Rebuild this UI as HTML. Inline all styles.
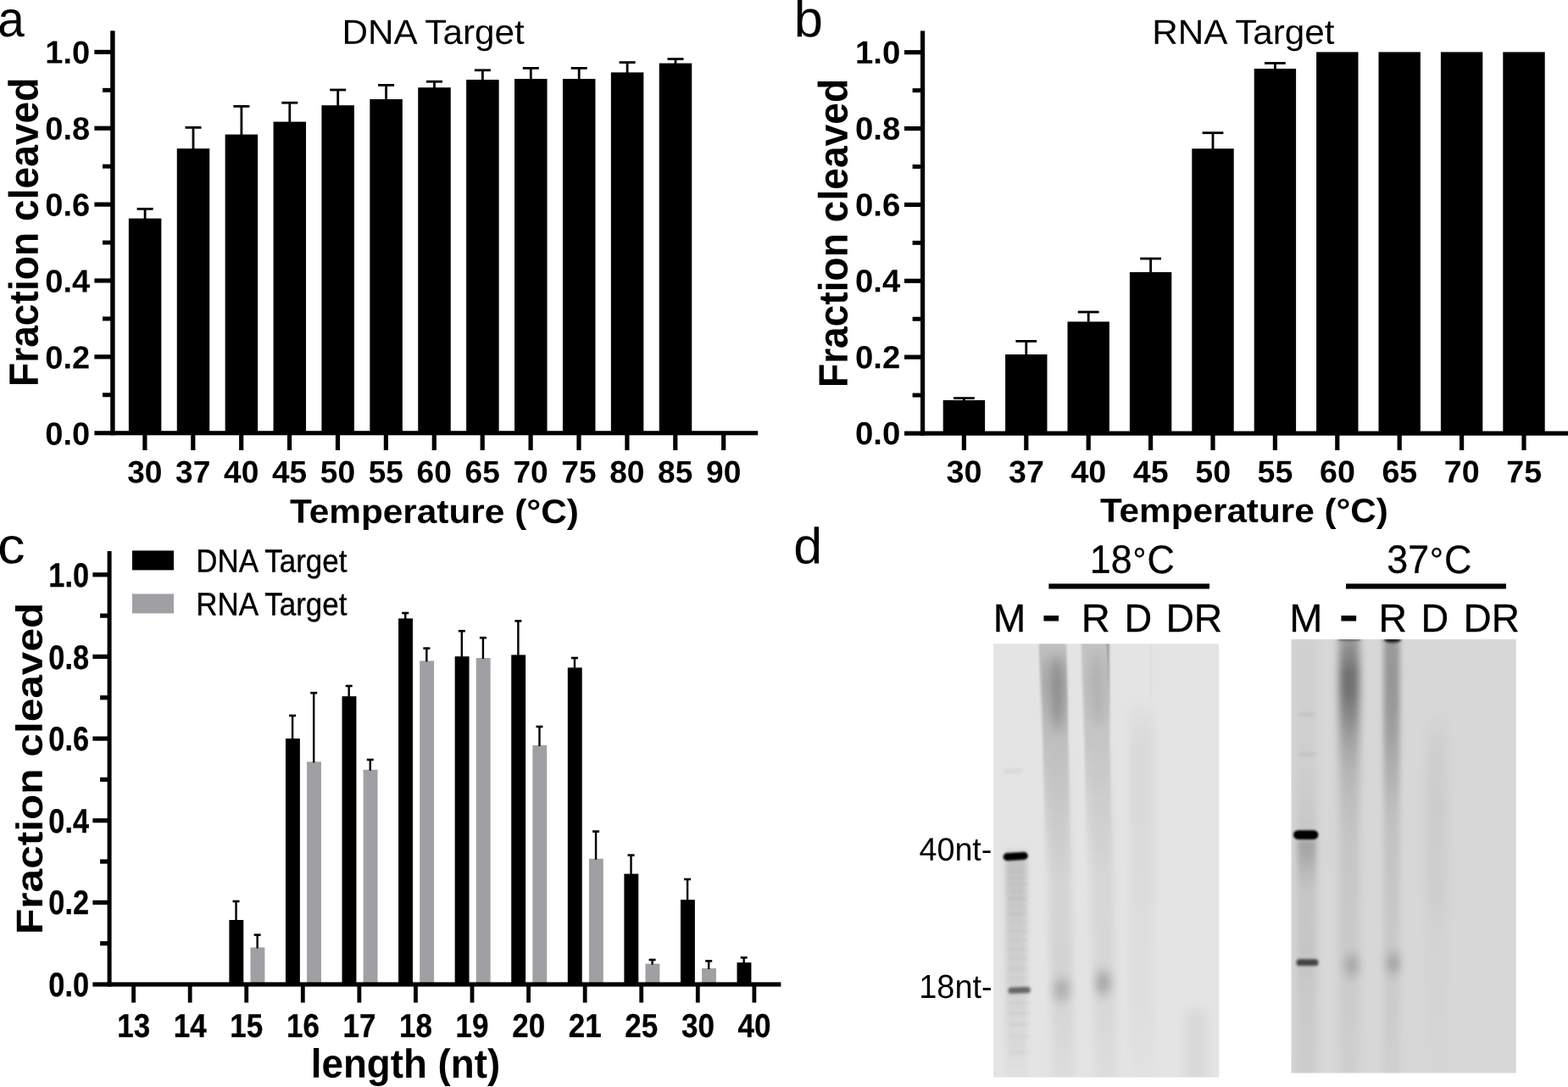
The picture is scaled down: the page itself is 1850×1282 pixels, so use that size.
<!DOCTYPE html>
<html lang="en"><head><meta charset="utf-8"><title>Figure</title>
<style>
html,body{margin:0;padding:0;background:#fff;}
body{width:1850px;height:1282px;overflow:hidden;}
svg{display:block;}
svg text{font-family:"Liberation Sans", sans-serif;fill:#000;white-space:pre;}
</style></head>
<body>
<svg width="1850" height="1282" viewBox="0 0 1850 1282" role="img" aria-label="Figure: fraction cleaved versus temperature and guide length, with gel images">
<rect width="1850" height="1282" fill="#fff"/>
<rect x="121.00" y="463.27" width="10.20" height="5.00" fill="#000"/>
<rect x="111.40" y="418.24" width="19.80" height="5.20" fill="#000"/>
<rect x="121.00" y="373.41" width="10.20" height="5.00" fill="#000"/>
<rect x="111.40" y="328.38" width="19.80" height="5.20" fill="#000"/>
<rect x="121.00" y="283.55" width="10.20" height="5.00" fill="#000"/>
<rect x="111.40" y="238.52" width="19.80" height="5.20" fill="#000"/>
<rect x="121.00" y="193.69" width="10.20" height="5.00" fill="#000"/>
<rect x="111.40" y="148.66" width="19.80" height="5.20" fill="#000"/>
<rect x="121.00" y="103.83" width="10.20" height="5.00" fill="#000"/>
<rect x="111.40" y="58.80" width="19.80" height="5.20" fill="#000"/>
<rect x="168.30" y="512.30" width="5.20" height="18.70" fill="#000"/>
<rect x="225.20" y="512.30" width="5.20" height="18.70" fill="#000"/>
<rect x="282.10" y="512.30" width="5.20" height="18.70" fill="#000"/>
<rect x="339.00" y="512.30" width="5.20" height="18.70" fill="#000"/>
<rect x="395.90" y="512.30" width="5.20" height="18.70" fill="#000"/>
<rect x="452.80" y="512.30" width="5.20" height="18.70" fill="#000"/>
<rect x="509.70" y="512.30" width="5.20" height="18.70" fill="#000"/>
<rect x="566.60" y="512.30" width="5.20" height="18.70" fill="#000"/>
<rect x="623.50" y="512.30" width="5.20" height="18.70" fill="#000"/>
<rect x="680.40" y="512.30" width="5.20" height="18.70" fill="#000"/>
<rect x="737.30" y="512.30" width="5.20" height="18.70" fill="#000"/>
<rect x="794.20" y="512.30" width="5.20" height="18.70" fill="#000"/>
<rect x="851.10" y="512.30" width="5.20" height="18.70" fill="#000"/>
<rect x="151.85" y="257.60" width="38.50" height="251.60" fill="#000"/>
<rect x="169.70" y="246.40" width="2.80" height="12.20" fill="#000"/>
<rect x="161.60" y="245.00" width="19.00" height="2.80" fill="#000"/>
<rect x="208.75" y="175.20" width="38.50" height="334.00" fill="#000"/>
<rect x="226.60" y="150.40" width="2.80" height="25.80" fill="#000"/>
<rect x="218.50" y="149.00" width="19.00" height="2.80" fill="#000"/>
<rect x="265.65" y="158.60" width="38.50" height="350.60" fill="#000"/>
<rect x="283.50" y="125.40" width="2.80" height="34.20" fill="#000"/>
<rect x="275.40" y="124.00" width="19.00" height="2.80" fill="#000"/>
<rect x="322.55" y="143.60" width="38.50" height="365.60" fill="#000"/>
<rect x="340.40" y="121.20" width="2.80" height="23.40" fill="#000"/>
<rect x="332.30" y="119.80" width="19.00" height="2.80" fill="#000"/>
<rect x="379.45" y="124.20" width="38.50" height="385.00" fill="#000"/>
<rect x="397.30" y="106.00" width="2.80" height="19.20" fill="#000"/>
<rect x="389.20" y="104.60" width="19.00" height="2.80" fill="#000"/>
<rect x="436.35" y="117.00" width="38.50" height="392.20" fill="#000"/>
<rect x="454.20" y="100.40" width="2.80" height="17.60" fill="#000"/>
<rect x="446.10" y="99.00" width="19.00" height="2.80" fill="#000"/>
<rect x="493.25" y="103.20" width="38.50" height="406.00" fill="#000"/>
<rect x="511.10" y="96.20" width="2.80" height="8.00" fill="#000"/>
<rect x="503.00" y="94.80" width="19.00" height="2.80" fill="#000"/>
<rect x="550.15" y="94.00" width="38.50" height="415.20" fill="#000"/>
<rect x="568.00" y="82.80" width="2.80" height="12.20" fill="#000"/>
<rect x="559.90" y="81.40" width="19.00" height="2.80" fill="#000"/>
<rect x="607.05" y="93.00" width="38.50" height="416.20" fill="#000"/>
<rect x="624.90" y="80.40" width="2.80" height="13.60" fill="#000"/>
<rect x="616.80" y="79.00" width="19.00" height="2.80" fill="#000"/>
<rect x="663.95" y="93.00" width="38.50" height="416.20" fill="#000"/>
<rect x="681.80" y="80.40" width="2.80" height="13.60" fill="#000"/>
<rect x="673.70" y="79.00" width="19.00" height="2.80" fill="#000"/>
<rect x="720.85" y="85.40" width="38.50" height="423.80" fill="#000"/>
<rect x="738.70" y="73.60" width="2.80" height="12.80" fill="#000"/>
<rect x="730.60" y="72.20" width="19.00" height="2.80" fill="#000"/>
<rect x="777.75" y="74.60" width="38.50" height="434.60" fill="#000"/>
<rect x="795.60" y="69.60" width="2.80" height="6.00" fill="#000"/>
<rect x="787.50" y="68.20" width="19.00" height="2.80" fill="#000"/>
<rect x="1076.60" y="463.57" width="10.40" height="5.00" fill="#000"/>
<rect x="1067.00" y="418.54" width="20.00" height="5.20" fill="#000"/>
<rect x="1076.60" y="373.71" width="10.40" height="5.00" fill="#000"/>
<rect x="1067.00" y="328.68" width="20.00" height="5.20" fill="#000"/>
<rect x="1076.60" y="283.85" width="10.40" height="5.00" fill="#000"/>
<rect x="1067.00" y="238.82" width="20.00" height="5.20" fill="#000"/>
<rect x="1076.60" y="193.99" width="10.40" height="5.00" fill="#000"/>
<rect x="1067.00" y="148.96" width="20.00" height="5.20" fill="#000"/>
<rect x="1076.60" y="104.13" width="10.40" height="5.00" fill="#000"/>
<rect x="1067.00" y="59.10" width="20.00" height="5.20" fill="#000"/>
<rect x="1134.80" y="512.70" width="5.20" height="18.30" fill="#000"/>
<rect x="1208.20" y="512.70" width="5.20" height="18.30" fill="#000"/>
<rect x="1281.60" y="512.70" width="5.20" height="18.30" fill="#000"/>
<rect x="1355.00" y="512.70" width="5.20" height="18.30" fill="#000"/>
<rect x="1428.40" y="512.70" width="5.20" height="18.30" fill="#000"/>
<rect x="1501.80" y="512.70" width="5.20" height="18.30" fill="#000"/>
<rect x="1575.20" y="512.70" width="5.20" height="18.30" fill="#000"/>
<rect x="1648.60" y="512.70" width="5.20" height="18.30" fill="#000"/>
<rect x="1722.00" y="512.70" width="5.20" height="18.30" fill="#000"/>
<rect x="1795.40" y="512.70" width="5.20" height="18.30" fill="#000"/>
<rect x="1112.70" y="472.00" width="49.40" height="37.50" fill="#000"/>
<rect x="1136.00" y="469.60" width="2.80" height="3.40" fill="#000"/>
<rect x="1125.00" y="468.20" width="24.80" height="2.80" fill="#000"/>
<rect x="1186.10" y="418.00" width="49.40" height="91.50" fill="#000"/>
<rect x="1209.40" y="402.40" width="2.80" height="16.60" fill="#000"/>
<rect x="1198.40" y="401.00" width="24.80" height="2.80" fill="#000"/>
<rect x="1259.50" y="379.40" width="49.40" height="130.10" fill="#000"/>
<rect x="1282.80" y="368.00" width="2.80" height="12.40" fill="#000"/>
<rect x="1271.80" y="366.60" width="24.80" height="2.80" fill="#000"/>
<rect x="1332.90" y="321.00" width="49.40" height="188.50" fill="#000"/>
<rect x="1356.20" y="305.00" width="2.80" height="17.00" fill="#000"/>
<rect x="1345.20" y="303.60" width="24.80" height="2.80" fill="#000"/>
<rect x="1406.30" y="175.30" width="49.40" height="334.20" fill="#000"/>
<rect x="1429.60" y="156.70" width="2.80" height="19.60" fill="#000"/>
<rect x="1418.60" y="155.30" width="24.80" height="2.80" fill="#000"/>
<rect x="1479.70" y="81.00" width="49.40" height="428.50" fill="#000"/>
<rect x="1503.00" y="74.50" width="2.80" height="7.50" fill="#000"/>
<rect x="1492.00" y="73.10" width="24.80" height="2.80" fill="#000"/>
<rect x="1553.10" y="61.40" width="49.40" height="448.10" fill="#000"/>
<rect x="1626.50" y="61.40" width="49.40" height="448.10" fill="#000"/>
<rect x="1699.90" y="61.40" width="49.40" height="448.10" fill="#000"/>
<rect x="1773.30" y="61.40" width="49.40" height="448.10" fill="#000"/>
<rect x="118.10" y="1110.08" width="9.50" height="5.20" fill="#000"/>
<rect x="109.40" y="1061.76" width="18.20" height="5.20" fill="#000"/>
<rect x="118.10" y="1013.44" width="9.50" height="5.20" fill="#000"/>
<rect x="109.40" y="965.12" width="18.20" height="5.20" fill="#000"/>
<rect x="118.10" y="916.80" width="9.50" height="5.20" fill="#000"/>
<rect x="109.40" y="868.48" width="18.20" height="5.20" fill="#000"/>
<rect x="118.10" y="820.16" width="9.50" height="5.20" fill="#000"/>
<rect x="109.40" y="771.84" width="18.20" height="5.20" fill="#000"/>
<rect x="118.10" y="723.52" width="9.50" height="5.20" fill="#000"/>
<rect x="109.40" y="675.20" width="18.20" height="5.20" fill="#000"/>
<rect x="155.20" y="1162.60" width="4.80" height="19.90" fill="#000"/>
<rect x="221.77" y="1162.60" width="4.80" height="19.90" fill="#000"/>
<rect x="288.34" y="1162.60" width="4.80" height="19.90" fill="#000"/>
<rect x="354.91" y="1162.60" width="4.80" height="19.90" fill="#000"/>
<rect x="421.48" y="1162.60" width="4.80" height="19.90" fill="#000"/>
<rect x="488.05" y="1162.60" width="4.80" height="19.90" fill="#000"/>
<rect x="554.62" y="1162.60" width="4.80" height="19.90" fill="#000"/>
<rect x="621.19" y="1162.60" width="4.80" height="19.90" fill="#000"/>
<rect x="687.76" y="1162.60" width="4.80" height="19.90" fill="#000"/>
<rect x="754.33" y="1162.60" width="4.80" height="19.90" fill="#000"/>
<rect x="820.90" y="1162.60" width="4.80" height="19.90" fill="#000"/>
<rect x="887.47" y="1162.60" width="4.80" height="19.90" fill="#000"/>
<rect x="270.39" y="1085.00" width="16.90" height="74.40" fill="#000"/>
<rect x="277.34" y="1063.00" width="2.40" height="23.00" fill="#000"/>
<rect x="274.54" y="1061.70" width="8.00" height="2.60" fill="#000"/>
<rect x="295.49" y="1117.40" width="16.90" height="42.00" fill="#a09fa4"/>
<rect x="302.44" y="1102.60" width="2.40" height="15.80" fill="#000"/>
<rect x="299.64" y="1101.30" width="8.00" height="2.60" fill="#000"/>
<rect x="336.96" y="871.00" width="16.90" height="288.40" fill="#000"/>
<rect x="343.91" y="844.00" width="2.40" height="28.00" fill="#000"/>
<rect x="341.11" y="842.70" width="8.00" height="2.60" fill="#000"/>
<rect x="362.06" y="898.40" width="16.90" height="261.00" fill="#a09fa4"/>
<rect x="369.01" y="817.20" width="2.40" height="82.20" fill="#000"/>
<rect x="366.21" y="815.90" width="8.00" height="2.60" fill="#000"/>
<rect x="403.53" y="821.20" width="16.90" height="338.20" fill="#000"/>
<rect x="410.48" y="809.00" width="2.40" height="13.20" fill="#000"/>
<rect x="407.68" y="807.70" width="8.00" height="2.60" fill="#000"/>
<rect x="428.63" y="907.80" width="16.90" height="251.60" fill="#a09fa4"/>
<rect x="435.58" y="896.00" width="2.40" height="12.80" fill="#000"/>
<rect x="432.78" y="894.70" width="8.00" height="2.60" fill="#000"/>
<rect x="470.10" y="729.40" width="16.90" height="430.00" fill="#000"/>
<rect x="477.05" y="723.00" width="2.40" height="7.40" fill="#000"/>
<rect x="474.25" y="721.70" width="8.00" height="2.60" fill="#000"/>
<rect x="495.20" y="779.40" width="16.90" height="380.00" fill="#a09fa4"/>
<rect x="502.15" y="764.60" width="2.40" height="15.80" fill="#000"/>
<rect x="499.35" y="763.30" width="8.00" height="2.60" fill="#000"/>
<rect x="536.67" y="774.20" width="16.90" height="385.20" fill="#000"/>
<rect x="543.62" y="744.20" width="2.40" height="31.00" fill="#000"/>
<rect x="540.82" y="742.90" width="8.00" height="2.60" fill="#000"/>
<rect x="561.77" y="776.00" width="16.90" height="383.40" fill="#a09fa4"/>
<rect x="568.72" y="752.20" width="2.40" height="24.80" fill="#000"/>
<rect x="565.92" y="750.90" width="8.00" height="2.60" fill="#000"/>
<rect x="603.24" y="772.40" width="16.90" height="387.00" fill="#000"/>
<rect x="610.19" y="732.40" width="2.40" height="41.00" fill="#000"/>
<rect x="607.39" y="731.10" width="8.00" height="2.60" fill="#000"/>
<rect x="628.34" y="879.00" width="16.90" height="280.40" fill="#a09fa4"/>
<rect x="635.29" y="857.00" width="2.40" height="23.00" fill="#000"/>
<rect x="632.49" y="855.70" width="8.00" height="2.60" fill="#000"/>
<rect x="669.81" y="787.40" width="16.90" height="372.00" fill="#000"/>
<rect x="676.76" y="776.00" width="2.40" height="12.40" fill="#000"/>
<rect x="673.96" y="774.70" width="8.00" height="2.60" fill="#000"/>
<rect x="694.91" y="1012.80" width="16.90" height="146.60" fill="#a09fa4"/>
<rect x="701.86" y="980.60" width="2.40" height="33.20" fill="#000"/>
<rect x="699.06" y="979.30" width="8.00" height="2.60" fill="#000"/>
<rect x="736.38" y="1030.60" width="16.90" height="128.80" fill="#000"/>
<rect x="743.33" y="1008.60" width="2.40" height="23.00" fill="#000"/>
<rect x="740.53" y="1007.30" width="8.00" height="2.60" fill="#000"/>
<rect x="761.48" y="1136.60" width="16.90" height="22.80" fill="#a09fa4"/>
<rect x="768.43" y="1132.00" width="2.40" height="5.60" fill="#000"/>
<rect x="765.63" y="1130.70" width="8.00" height="2.60" fill="#000"/>
<rect x="802.95" y="1061.20" width="16.90" height="98.20" fill="#000"/>
<rect x="809.90" y="1037.00" width="2.40" height="25.20" fill="#000"/>
<rect x="807.10" y="1035.70" width="8.00" height="2.60" fill="#000"/>
<rect x="828.05" y="1142.00" width="16.90" height="17.40" fill="#a09fa4"/>
<rect x="835.00" y="1133.40" width="2.40" height="9.60" fill="#000"/>
<rect x="832.20" y="1132.10" width="8.00" height="2.60" fill="#000"/>
<rect x="869.52" y="1135.20" width="16.90" height="24.20" fill="#000"/>
<rect x="876.47" y="1129.40" width="2.40" height="6.80" fill="#000"/>
<rect x="873.67" y="1128.10" width="8.00" height="2.60" fill="#000"/>
<rect x="156.00" y="649.40" width="49.00" height="23.00" fill="#000"/>
<rect x="156.00" y="700.40" width="49.00" height="23.00" fill="#a09fa4"/>
<rect x="1237.40" y="688.40" width="189.60" height="6.10" fill="#000"/>
<rect x="1588.00" y="688.40" width="189.00" height="6.10" fill="#000"/>
<defs><filter id="bx2" x="-100%" y="-100%" width="300%" height="300%"><feGaussianBlur stdDeviation="2 2"/></filter><filter id="bx1" x="-100%" y="-100%" width="300%" height="300%"><feGaussianBlur stdDeviation="1.3 2"/></filter><filter id="bx3" x="-100%" y="-100%" width="300%" height="300%"><feGaussianBlur stdDeviation="3 3"/></filter><filter id="bx5" x="-100%" y="-100%" width="300%" height="300%"><feGaussianBlur stdDeviation="5 4"/></filter><filter id="bb8" x="-100%" y="-100%" width="300%" height="300%"><feGaussianBlur stdDeviation="8 8"/></filter><filter id="bb6" x="-100%" y="-100%" width="300%" height="300%"><feGaussianBlur stdDeviation="6 7"/></filter><filter id="bb5" x="-100%" y="-100%" width="300%" height="300%"><feGaussianBlur stdDeviation="5 5"/></filter><filter id="bb2" x="-100%" y="-100%" width="300%" height="300%"><feGaussianBlur stdDeviation="1.8 1.6"/></filter><filter id="bb1" x="-100%" y="-100%" width="300%" height="300%"><feGaussianBlur stdDeviation="1.2 1.1"/></filter><filter id="bl" x="-100%" y="-100%" width="300%" height="300%"><feGaussianBlur stdDeviation="0.8 3"/></filter><clipPath id="g1"><rect x="1172.0" y="759.3" width="266.2" height="511.1"/></clipPath><clipPath id="g2"><rect x="1523.5" y="754.0" width="265.3" height="511.4"/></clipPath><linearGradient id="s1a" gradientUnits="userSpaceOnUse" x1="0" y1="740" x2="0" y2="1290"><stop offset="0.0000" stop-color="#000" stop-opacity="0.12"/><stop offset="0.0455" stop-color="#000" stop-opacity="0.16"/><stop offset="0.0818" stop-color="#000" stop-opacity="0.22"/><stop offset="0.1182" stop-color="#000" stop-opacity="0.24"/><stop offset="0.1636" stop-color="#000" stop-opacity="0.22"/><stop offset="0.2364" stop-color="#000" stop-opacity="0.16"/><stop offset="0.3455" stop-color="#000" stop-opacity="0.09"/><stop offset="0.4364" stop-color="#000" stop-opacity="0.04"/><stop offset="0.5273" stop-color="#000" stop-opacity="0.0"/><stop offset="1.0000" stop-color="#000" stop-opacity="0.0"/></linearGradient><linearGradient id="s1A" gradientUnits="userSpaceOnUse" x1="0" y1="740" x2="0" y2="1290"><stop offset="0.0000" stop-color="#000" stop-opacity="0.0"/><stop offset="0.2182" stop-color="#000" stop-opacity="0.0"/><stop offset="0.3455" stop-color="#000" stop-opacity="0.05"/><stop offset="0.4727" stop-color="#000" stop-opacity="0.075"/><stop offset="0.6182" stop-color="#000" stop-opacity="0.07"/><stop offset="0.7273" stop-color="#000" stop-opacity="0.075"/><stop offset="0.8364" stop-color="#000" stop-opacity="0.06"/><stop offset="0.9273" stop-color="#000" stop-opacity="0.04"/><stop offset="1.0000" stop-color="#000" stop-opacity="0.03"/></linearGradient><linearGradient id="s1b" gradientUnits="userSpaceOnUse" x1="0" y1="740" x2="0" y2="1290"><stop offset="0.0000" stop-color="#000" stop-opacity="0.13"/><stop offset="0.0545" stop-color="#000" stop-opacity="0.15"/><stop offset="0.1091" stop-color="#000" stop-opacity="0.16"/><stop offset="0.1818" stop-color="#000" stop-opacity="0.15"/><stop offset="0.2545" stop-color="#000" stop-opacity="0.12"/><stop offset="0.3455" stop-color="#000" stop-opacity="0.07"/><stop offset="0.4364" stop-color="#000" stop-opacity="0.03"/><stop offset="0.5273" stop-color="#000" stop-opacity="0.0"/><stop offset="1.0000" stop-color="#000" stop-opacity="0.0"/></linearGradient><linearGradient id="s1B" gradientUnits="userSpaceOnUse" x1="0" y1="740" x2="0" y2="1290"><stop offset="0.0000" stop-color="#000" stop-opacity="0.0"/><stop offset="0.2182" stop-color="#000" stop-opacity="0.0"/><stop offset="0.3455" stop-color="#000" stop-opacity="0.04"/><stop offset="0.4727" stop-color="#000" stop-opacity="0.065"/><stop offset="0.6182" stop-color="#000" stop-opacity="0.06"/><stop offset="0.7091" stop-color="#000" stop-opacity="0.065"/><stop offset="0.8364" stop-color="#000" stop-opacity="0.05"/><stop offset="0.9273" stop-color="#000" stop-opacity="0.035"/><stop offset="1.0000" stop-color="#000" stop-opacity="0.03"/></linearGradient><linearGradient id="s1c" gradientUnits="userSpaceOnUse" x1="0" y1="740" x2="0" y2="1290"><stop offset="0.0000" stop-color="#000" stop-opacity="0.0"/><stop offset="0.1545" stop-color="#000" stop-opacity="0.0"/><stop offset="0.2000" stop-color="#000" stop-opacity="0.03"/><stop offset="0.2545" stop-color="#000" stop-opacity="0.045"/><stop offset="0.4727" stop-color="#000" stop-opacity="0.04"/><stop offset="0.6545" stop-color="#000" stop-opacity="0.03"/><stop offset="0.8364" stop-color="#000" stop-opacity="0.025"/><stop offset="1.0000" stop-color="#000" stop-opacity="0.0"/></linearGradient><linearGradient id="s1m" gradientUnits="userSpaceOnUse" x1="0" y1="740" x2="0" y2="1290"><stop offset="0.0000" stop-color="#000" stop-opacity="0.0"/><stop offset="0.4727" stop-color="#000" stop-opacity="0.0"/><stop offset="0.4945" stop-color="#000" stop-opacity="0.15"/><stop offset="0.5636" stop-color="#000" stop-opacity="0.13"/><stop offset="0.6545" stop-color="#000" stop-opacity="0.1"/><stop offset="0.7636" stop-color="#000" stop-opacity="0.08"/><stop offset="0.8364" stop-color="#000" stop-opacity="0.06"/><stop offset="0.9091" stop-color="#000" stop-opacity="0.04"/><stop offset="1.0000" stop-color="#000" stop-opacity="0.0"/></linearGradient><linearGradient id="e1a" gradientUnits="userSpaceOnUse" x1="0" y1="755" x2="0" y2="880"><stop offset="0.0000" stop-color="#000" stop-opacity="0.3"/><stop offset="0.3600" stop-color="#000" stop-opacity="0.22"/><stop offset="0.6800" stop-color="#000" stop-opacity="0.08"/><stop offset="1.0000" stop-color="#000" stop-opacity="0.0"/></linearGradient><linearGradient id="e1b" gradientUnits="userSpaceOnUse" x1="0" y1="755" x2="0" y2="870"><stop offset="0.0000" stop-color="#000" stop-opacity="0.5"/><stop offset="0.2174" stop-color="#000" stop-opacity="0.3"/><stop offset="0.6522" stop-color="#000" stop-opacity="0.1"/><stop offset="1.0000" stop-color="#000" stop-opacity="0.0"/></linearGradient><linearGradient id="s2a" gradientUnits="userSpaceOnUse" x1="0" y1="735" x2="0" y2="1290"><stop offset="0.0000" stop-color="#000" stop-opacity="0.26"/><stop offset="0.0378" stop-color="#000" stop-opacity="0.3"/><stop offset="0.0721" stop-color="#000" stop-opacity="0.38"/><stop offset="0.1081" stop-color="#000" stop-opacity="0.48"/><stop offset="0.1441" stop-color="#000" stop-opacity="0.47"/><stop offset="0.1892" stop-color="#000" stop-opacity="0.38"/><stop offset="0.2360" stop-color="#000" stop-opacity="0.27"/><stop offset="0.2793" stop-color="#000" stop-opacity="0.2"/><stop offset="0.3171" stop-color="#000" stop-opacity="0.16"/><stop offset="0.3694" stop-color="#000" stop-opacity="0.12"/><stop offset="0.4775" stop-color="#000" stop-opacity="0.08"/><stop offset="0.6216" stop-color="#000" stop-opacity="0.07"/><stop offset="0.8378" stop-color="#000" stop-opacity="0.05"/><stop offset="1.0000" stop-color="#000" stop-opacity="0.03"/></linearGradient><linearGradient id="s2b" gradientUnits="userSpaceOnUse" x1="0" y1="735" x2="0" y2="1290"><stop offset="0.0000" stop-color="#000" stop-opacity="0.3"/><stop offset="0.0414" stop-color="#000" stop-opacity="0.28"/><stop offset="0.0991" stop-color="#000" stop-opacity="0.3"/><stop offset="0.1712" stop-color="#000" stop-opacity="0.29"/><stop offset="0.2252" stop-color="#000" stop-opacity="0.26"/><stop offset="0.2901" stop-color="#000" stop-opacity="0.2"/><stop offset="0.3514" stop-color="#000" stop-opacity="0.15"/><stop offset="0.4054" stop-color="#000" stop-opacity="0.11"/><stop offset="0.4775" stop-color="#000" stop-opacity="0.09"/><stop offset="0.6216" stop-color="#000" stop-opacity="0.07"/><stop offset="0.8378" stop-color="#000" stop-opacity="0.05"/><stop offset="1.0000" stop-color="#000" stop-opacity="0.03"/></linearGradient><linearGradient id="s2c" gradientUnits="userSpaceOnUse" x1="0" y1="735" x2="0" y2="1290"><stop offset="0.0000" stop-color="#000" stop-opacity="0.0"/><stop offset="0.1892" stop-color="#000" stop-opacity="0.0"/><stop offset="0.2432" stop-color="#000" stop-opacity="0.03"/><stop offset="0.3874" stop-color="#000" stop-opacity="0.05"/><stop offset="0.5676" stop-color="#000" stop-opacity="0.04"/><stop offset="0.6577" stop-color="#000" stop-opacity="0.02"/><stop offset="1.0000" stop-color="#000" stop-opacity="0.0"/></linearGradient><linearGradient id="s2m" gradientUnits="userSpaceOnUse" x1="0" y1="735" x2="0" y2="1290"><stop offset="0.0000" stop-color="#000" stop-opacity="0.0"/><stop offset="0.2973" stop-color="#000" stop-opacity="0.01"/><stop offset="0.4234" stop-color="#000" stop-opacity="0.04"/><stop offset="0.4559" stop-color="#000" stop-opacity="0.06"/><stop offset="0.4649" stop-color="#000" stop-opacity="0.22"/><stop offset="0.4955" stop-color="#000" stop-opacity="0.18"/><stop offset="0.5315" stop-color="#000" stop-opacity="0.11"/><stop offset="0.5676" stop-color="#000" stop-opacity="0.06"/><stop offset="0.6216" stop-color="#000" stop-opacity="0.05"/><stop offset="0.7117" stop-color="#000" stop-opacity="0.06"/><stop offset="0.7658" stop-color="#000" stop-opacity="0.04"/><stop offset="0.8378" stop-color="#000" stop-opacity="0.03"/><stop offset="1.0000" stop-color="#000" stop-opacity="0.02"/></linearGradient></defs>
<g clip-path="url(#g1)">
<rect x="1171" y="758" width="268" height="514" fill="#e4e4e4"/>
<g transform="translate(-14.88 0) skewX(1.1)">
<rect x="1228.5" y="740" width="30" height="550" fill="url(#s1a)" filter="url(#bx1)"/>
<rect x="1232" y="740" width="27" height="550" fill="url(#s1A)" filter="url(#bx5)"/>
<ellipse cx="1246.5" cy="818" rx="6" ry="46" fill="#000" opacity="0.22" filter="url(#bb6)"/>
<rect x="1226.6" y="755" width="1.6" height="125" fill="url(#e1a)" filter="url(#bl)"/>
<rect x="1277.5" y="740" width="30" height="550" fill="url(#s1b)" filter="url(#bx1)"/>
<rect x="1282" y="740" width="27" height="550" fill="url(#s1B)" filter="url(#bx5)"/>
<ellipse cx="1294" cy="812" rx="6" ry="46" fill="#000" opacity="0.09" filter="url(#bb6)"/>
<rect x="1306.8" y="755" width="1.8" height="115" fill="url(#e1b)" filter="url(#bl)"/>
<rect x="1276.0" y="755" width="1.4" height="115" fill="url(#e1a)" opacity="0.5" filter="url(#bl)"/>
</g>
<rect x="1332" y="740" width="30" height="550" fill="url(#s1c)" filter="url(#bx5)"/>
<rect x="1357.6" y="755" width="1.4" height="70" fill="#000" opacity="0.04" filter="url(#bl)"/>
<rect x="1399" y="1190" width="24" height="120" fill="#000" opacity="0.05" filter="url(#bb8)"/>
<rect x="1186.5" y="740" width="25" height="550" fill="url(#s1m)" filter="url(#bx3)"/>
<ellipse cx="1252.5" cy="1167" rx="9" ry="13" fill="#000" opacity="0.20" filter="url(#bb6)"/>
<ellipse cx="1301.5" cy="1159" rx="8" ry="14" fill="#000" opacity="0.25" filter="url(#bb6)"/>
<g transform="rotate(-3.5 1198 1010)"><rect x="1183.6" y="1005.6" width="29.2" height="8.8" rx="4.4" fill="#000" filter="url(#bb1)"/></g>
<g transform="rotate(-2 1202 1168)"><rect x="1189.5" y="1164.2" width="26.5" height="7.4" rx="3.7" fill="#000" opacity="0.52" filter="url(#bb2)"/></g>
<rect x="1184" y="906.5" width="22" height="6" fill="#000" opacity="0.045" filter="url(#bb2)"/>
<rect x="1186.0" y="1026.0" width="26" height="3.4" fill="#000" opacity="0.022" filter="url(#bb2)"/>
<rect x="1186.2" y="1033.6" width="26" height="3.4" fill="#000" opacity="0.014" filter="url(#bb2)"/>
<rect x="1186.4" y="1041.5" width="26" height="3.4" fill="#000" opacity="0.022" filter="url(#bb2)"/>
<rect x="1186.6" y="1049.8" width="26" height="3.4" fill="#000" opacity="0.014" filter="url(#bb2)"/>
<rect x="1186.8" y="1058.5" width="26" height="3.4" fill="#000" opacity="0.022" filter="url(#bb2)"/>
<rect x="1187.0" y="1067.5" width="26" height="3.4" fill="#000" opacity="0.014" filter="url(#bb2)"/>
<rect x="1187.2" y="1076.8" width="26" height="3.4" fill="#000" opacity="0.022" filter="url(#bb2)"/>
<rect x="1187.4" y="1086.5" width="26" height="3.4" fill="#000" opacity="0.014" filter="url(#bb2)"/>
<rect x="1187.6" y="1096.6" width="26" height="3.4" fill="#000" opacity="0.022" filter="url(#bb2)"/>
<rect x="1187.8" y="1107.0" width="26" height="3.4" fill="#000" opacity="0.014" filter="url(#bb2)"/>
<rect x="1188.0" y="1117.8" width="26" height="3.4" fill="#000" opacity="0.022" filter="url(#bb2)"/>
<rect x="1188.2" y="1128.8" width="26" height="3.4" fill="#000" opacity="0.014" filter="url(#bb2)"/>
<rect x="1188.4" y="1140.3" width="26" height="3.4" fill="#000" opacity="0.022" filter="url(#bb2)"/>
<rect x="1188.6" y="1152.1" width="26" height="3.4" fill="#000" opacity="0.014" filter="url(#bb2)"/>
<rect x="1191" y="1181" width="25" height="3.5" fill="#000" opacity="0.028" filter="url(#bb2)"/>
<rect x="1191" y="1193" width="25" height="3.5" fill="#000" opacity="0.028" filter="url(#bb2)"/>
<rect x="1191" y="1206" width="25" height="3.5" fill="#000" opacity="0.028" filter="url(#bb2)"/>
<rect x="1191" y="1221" width="25" height="3.5" fill="#000" opacity="0.028" filter="url(#bb2)"/>
<rect x="1191" y="1239" width="25" height="3.5" fill="#000" opacity="0.028" filter="url(#bb2)"/>
</g>
<g clip-path="url(#g2)">
<rect x="1522" y="753" width="268" height="514" fill="#d7d7d7"/>
<rect x="1520" y="735" width="34" height="560" fill="#000" opacity="0.025" filter="url(#bb8)"/>
<rect x="1580" y="735" width="24" height="560" fill="url(#s2a)" filter="url(#bx5)"/>
<rect x="1579" y="752" width="26" height="3.5" fill="#000" opacity="0.35" filter="url(#bb2)"/>
<rect x="1632.5" y="735" width="19" height="560" fill="url(#s2b)" filter="url(#bx3)"/>
<rect x="1682" y="735" width="26" height="560" fill="url(#s2c)" filter="url(#bx5)"/>
<rect x="1531" y="735" width="22" height="560" fill="url(#s2m)" filter="url(#bx3)"/>
<ellipse cx="1595" cy="1138" rx="8" ry="12" fill="#000" opacity="0.20" filter="url(#bb6)"/>
<ellipse cx="1644" cy="1136" rx="7.5" ry="12" fill="#000" opacity="0.22" filter="url(#bb6)"/>
<ellipse cx="1643" cy="754.5" rx="10" ry="3.4" fill="#000" opacity="0.8" filter="url(#bb2)"/>
<rect x="1526.0" y="979.3" width="29.4" height="10.6" rx="5.3" fill="#000" filter="url(#bb1)"/>
<rect x="1529.5" y="1131.3" width="26" height="7.8" rx="3.9" fill="#000" opacity="0.66" filter="url(#bb2)"/>
<rect x="1532" y="840" width="20" height="5" fill="#000" opacity="0.04" filter="url(#bb2)"/>
<rect x="1532" y="887" width="20" height="5" fill="#000" opacity="0.05" filter="url(#bb2)"/>
</g>
<rect x="130.20" y="36.30" width="5.40" height="477.00" fill="#000"/>
<rect x="111.40" y="508.20" width="782.80" height="5.10" fill="#000"/>
<rect x="1086.00" y="36.40" width="5.20" height="477.30" fill="#000"/>
<rect x="1067.00" y="508.50" width="783.00" height="5.20" fill="#000"/>
<rect x="126.60" y="650.00" width="5.00" height="513.60" fill="#000"/>
<rect x="109.40" y="1158.40" width="812.00" height="5.20" fill="#000"/>
<g>
<text transform="translate(53.28 524.52) rotate(0.03) scale(1.0081 1)" font-size="37.71" font-weight="bold">0.0</text>
<text transform="translate(53.28 434.54) rotate(0.03) scale(1.0081 1)" font-size="37.71" font-weight="bold">0.2</text>
<text transform="translate(53.28 344.56) rotate(0.03) scale(1.0081 1)" font-size="37.71" font-weight="bold">0.4</text>
<text transform="translate(53.28 254.58) rotate(0.03) scale(1.0081 1)" font-size="37.71" font-weight="bold">0.6</text>
<text transform="translate(53.28 164.60) rotate(0.03) scale(1.0081 1)" font-size="37.71" font-weight="bold">0.8</text>
<text transform="translate(53.28 74.62) rotate(0.03) scale(1.0081 1)" font-size="37.71" font-weight="bold">1.0</text>
<text transform="translate(150.21 569.23) rotate(0.03) scale(1.0101 1)" font-size="36.72" font-weight="bold">30</text>
<text transform="translate(207.11 569.23) rotate(0.03) scale(1.0101 1)" font-size="36.72" font-weight="bold">37</text>
<text transform="translate(264.01 569.23) rotate(0.03) scale(1.0101 1)" font-size="36.72" font-weight="bold">40</text>
<text transform="translate(320.91 569.23) rotate(0.03) scale(1.0101 1)" font-size="36.72" font-weight="bold">45</text>
<text transform="translate(377.81 569.23) rotate(0.03) scale(1.0101 1)" font-size="36.72" font-weight="bold">50</text>
<text transform="translate(434.71 569.23) rotate(0.03) scale(1.0101 1)" font-size="36.72" font-weight="bold">55</text>
<text transform="translate(491.61 569.23) rotate(0.03) scale(1.0101 1)" font-size="36.72" font-weight="bold">60</text>
<text transform="translate(548.51 569.23) rotate(0.03) scale(1.0101 1)" font-size="36.72" font-weight="bold">65</text>
<text transform="translate(605.41 569.23) rotate(0.03) scale(1.0101 1)" font-size="36.72" font-weight="bold">70</text>
<text transform="translate(662.31 569.23) rotate(0.03) scale(1.0101 1)" font-size="36.72" font-weight="bold">75</text>
<text transform="translate(719.21 569.23) rotate(0.03) scale(1.0101 1)" font-size="36.72" font-weight="bold">80</text>
<text transform="translate(776.11 569.23) rotate(0.03) scale(1.0101 1)" font-size="36.72" font-weight="bold">85</text>
<text transform="translate(833.01 569.23) rotate(0.03) scale(1.0101 1)" font-size="36.72" font-weight="bold">90</text>
<text transform="translate(403.46 51.64) rotate(0.03) scale(1.0366 1)" font-size="40.75">DNA Target</text>
<text transform="translate(341.92 616.61) rotate(0.03) scale(1.0692 1)" font-size="39.64" font-weight="bold">Temperature (°C)</text>
<text transform="translate(44.79 456.02) rotate(-90.03) scale(0.9511 1)" font-size="48.56" font-weight="bold">Fraction cleaved</text>
<text transform="translate(-2.69 43.10) rotate(0.03) scale(0.9513 1)" font-size="59.66">a</text>
<text transform="translate(1009.07 524.02) rotate(0.03) scale(1.0162 1)" font-size="37.71" font-weight="bold">0.0</text>
<text transform="translate(1009.07 434.16) rotate(0.03) scale(1.0162 1)" font-size="37.71" font-weight="bold">0.2</text>
<text transform="translate(1009.07 344.30) rotate(0.03) scale(1.0162 1)" font-size="37.71" font-weight="bold">0.4</text>
<text transform="translate(1009.07 254.44) rotate(0.03) scale(1.0162 1)" font-size="37.71" font-weight="bold">0.6</text>
<text transform="translate(1009.07 164.58) rotate(0.03) scale(1.0162 1)" font-size="37.71" font-weight="bold">0.8</text>
<text transform="translate(1009.07 74.72) rotate(0.03) scale(1.0162 1)" font-size="37.71" font-weight="bold">1.0</text>
<text transform="translate(1116.59 568.93) rotate(0.03) scale(1.0219 1)" font-size="36.86" font-weight="bold">30</text>
<text transform="translate(1189.99 568.93) rotate(0.03) scale(1.0219 1)" font-size="36.86" font-weight="bold">37</text>
<text transform="translate(1263.39 568.93) rotate(0.03) scale(1.0219 1)" font-size="36.86" font-weight="bold">40</text>
<text transform="translate(1336.79 568.93) rotate(0.03) scale(1.0219 1)" font-size="36.86" font-weight="bold">45</text>
<text transform="translate(1410.19 568.93) rotate(0.03) scale(1.0219 1)" font-size="36.86" font-weight="bold">50</text>
<text transform="translate(1483.59 568.93) rotate(0.03) scale(1.0219 1)" font-size="36.86" font-weight="bold">55</text>
<text transform="translate(1556.99 568.93) rotate(0.03) scale(1.0219 1)" font-size="36.86" font-weight="bold">60</text>
<text transform="translate(1630.39 568.93) rotate(0.03) scale(1.0219 1)" font-size="36.86" font-weight="bold">65</text>
<text transform="translate(1703.79 568.93) rotate(0.03) scale(1.0219 1)" font-size="36.86" font-weight="bold">70</text>
<text transform="translate(1777.19 568.93) rotate(0.03) scale(1.0219 1)" font-size="36.86" font-weight="bold">75</text>
<text transform="translate(1359.36 51.64) rotate(0.03) scale(1.0366 1)" font-size="40.75">RNA Target</text>
<text transform="translate(1297.93 615.61) rotate(0.03) scale(1.0660 1)" font-size="39.64" font-weight="bold">Temperature (°C)</text>
<text transform="translate(999.80 457.02) rotate(-90.03) scale(0.9570 1)" font-size="48.22" font-weight="bold">Fraction cleaved</text>
<text transform="translate(936.73 43.19) rotate(0.03) scale(1.0061 1)" font-size="61.10">b</text>
<text transform="translate(57.33 1175.10) rotate(0.03) scale(0.8575 1)" font-size="39.97" font-weight="bold" stroke="#000" stroke-width="0.3" stroke-linejoin="round">0.0</text>
<text transform="translate(57.33 1078.46) rotate(0.03) scale(0.8575 1)" font-size="39.97" font-weight="bold" stroke="#000" stroke-width="0.3" stroke-linejoin="round">0.2</text>
<text transform="translate(57.33 981.82) rotate(0.03) scale(0.8575 1)" font-size="39.97" font-weight="bold" stroke="#000" stroke-width="0.3" stroke-linejoin="round">0.4</text>
<text transform="translate(57.33 885.18) rotate(0.03) scale(0.8575 1)" font-size="39.97" font-weight="bold" stroke="#000" stroke-width="0.3" stroke-linejoin="round">0.6</text>
<text transform="translate(57.33 788.54) rotate(0.03) scale(0.8575 1)" font-size="39.97" font-weight="bold" stroke="#000" stroke-width="0.3" stroke-linejoin="round">0.8</text>
<text transform="translate(57.33 691.90) rotate(0.03) scale(0.8575 1)" font-size="39.97" font-weight="bold" stroke="#000" stroke-width="0.3" stroke-linejoin="round">1.0</text>
<text transform="translate(138.19 1223.11) rotate(0.03) scale(0.8994 1)" font-size="38.97" font-weight="bold" stroke="#000" stroke-width="0.3" stroke-linejoin="round">13</text>
<text transform="translate(204.76 1223.11) rotate(0.03) scale(0.8994 1)" font-size="38.97" font-weight="bold" stroke="#000" stroke-width="0.3" stroke-linejoin="round">14</text>
<text transform="translate(271.33 1223.11) rotate(0.03) scale(0.8994 1)" font-size="38.97" font-weight="bold" stroke="#000" stroke-width="0.3" stroke-linejoin="round">15</text>
<text transform="translate(337.90 1223.11) rotate(0.03) scale(0.8994 1)" font-size="38.97" font-weight="bold" stroke="#000" stroke-width="0.3" stroke-linejoin="round">16</text>
<text transform="translate(404.47 1223.11) rotate(0.03) scale(0.8994 1)" font-size="38.97" font-weight="bold" stroke="#000" stroke-width="0.3" stroke-linejoin="round">17</text>
<text transform="translate(471.04 1223.11) rotate(0.03) scale(0.8994 1)" font-size="38.97" font-weight="bold" stroke="#000" stroke-width="0.3" stroke-linejoin="round">18</text>
<text transform="translate(537.61 1223.11) rotate(0.03) scale(0.8994 1)" font-size="38.97" font-weight="bold" stroke="#000" stroke-width="0.3" stroke-linejoin="round">19</text>
<text transform="translate(604.18 1223.11) rotate(0.03) scale(0.8994 1)" font-size="38.97" font-weight="bold" stroke="#000" stroke-width="0.3" stroke-linejoin="round">20</text>
<text transform="translate(670.75 1223.11) rotate(0.03) scale(0.8994 1)" font-size="38.97" font-weight="bold" stroke="#000" stroke-width="0.3" stroke-linejoin="round">21</text>
<text transform="translate(737.32 1223.11) rotate(0.03) scale(0.8994 1)" font-size="38.97" font-weight="bold" stroke="#000" stroke-width="0.3" stroke-linejoin="round">25</text>
<text transform="translate(803.89 1223.11) rotate(0.03) scale(0.8994 1)" font-size="38.97" font-weight="bold" stroke="#000" stroke-width="0.3" stroke-linejoin="round">30</text>
<text transform="translate(870.46 1223.11) rotate(0.03) scale(0.8994 1)" font-size="38.97" font-weight="bold" stroke="#000" stroke-width="0.3" stroke-linejoin="round">40</text>
<text transform="translate(231.36 674.40) rotate(0.03) scale(0.9179 1)" font-size="38.07" stroke="#000" stroke-width="0.4" stroke-linejoin="round">DNA Target</text>
<text transform="translate(231.36 725.40) rotate(0.03) scale(0.9179 1)" font-size="38.07" stroke="#000" stroke-width="0.4" stroke-linejoin="round">RNA Target</text>
<text transform="translate(366.80 1270.83) rotate(0.03) scale(0.9513 1)" font-size="48.05" font-weight="bold">length (nt)</text>
<text transform="translate(49.96 1101.95) rotate(-90.03) scale(1.1303 1)" font-size="43.87" font-weight="bold">Fraction cleaved</text>
<text transform="translate(-2.94 664.30) rotate(0.03) scale(1.0826 1)" font-size="60.04">c</text>
<text transform="translate(936.36 664.40) rotate(0.03) scale(1.0156 1)" font-size="59.87">d</text>
<text transform="translate(1285.86 675.73) rotate(0.03) scale(0.9544 1)" font-size="46.89" stroke="#000" stroke-width="0.3" stroke-linejoin="round">18<tspan font-size="0.88em" dx="1.0" dy="-0.022em">°</tspan><tspan dx="1.2" dy="0.022em">C</tspan></text>
<text transform="translate(1636.20 675.73) rotate(0.03) scale(0.9571 1)" font-size="46.88" stroke="#000" stroke-width="0.3" stroke-linejoin="round">37<tspan font-size="0.88em" dx="1.0" dy="-0.022em">°</tspan><tspan dx="1.2" dy="0.022em">C</tspan></text>
<text transform="translate(1171.63 744.90) rotate(0.03) scale(0.9926 1)" font-size="46.64" stroke="#000" stroke-width="0.3" stroke-linejoin="round">M</text>
<text transform="translate(1228.75 743.13) rotate(0.03) scale(1.2789 1)" font-size="54.17" font-weight="bold">-</text>
<text transform="translate(1275.77 744.90) rotate(0.03) scale(1.0099 1)" font-size="46.64" stroke="#000" stroke-width="0.3" stroke-linejoin="round">R</text>
<text transform="translate(1326.52 744.90) rotate(0.03) scale(0.9697 1)" font-size="46.64" stroke="#000" stroke-width="0.3" stroke-linejoin="round">D</text>
<text transform="translate(1375.43 744.90) rotate(0.03) scale(0.9925 1)" font-size="46.64" stroke="#000" stroke-width="0.3" stroke-linejoin="round">DR</text>
<text transform="translate(1521.17 744.90) rotate(0.03) scale(1.0086 1)" font-size="46.64" stroke="#000" stroke-width="0.3" stroke-linejoin="round">M</text>
<text transform="translate(1579.84 743.13) rotate(0.03) scale(1.2862 1)" font-size="54.17" font-weight="bold">-</text>
<text transform="translate(1626.62 744.90) rotate(0.03) scale(0.9953 1)" font-size="46.64" stroke="#000" stroke-width="0.3" stroke-linejoin="round">R</text>
<text transform="translate(1676.52 744.90) rotate(0.03) scale(0.9697 1)" font-size="46.64" stroke="#000" stroke-width="0.3" stroke-linejoin="round">D</text>
<text transform="translate(1726.46 744.90) rotate(0.03) scale(0.9860 1)" font-size="46.64" stroke="#000" stroke-width="0.3" stroke-linejoin="round">DR</text>
<text transform="translate(1084.46 1014.82) rotate(0.03) scale(0.9888 1)" font-size="38.13">40nt-</text>
<text transform="translate(1084.29 1176.91) rotate(0.03) scale(0.9646 1)" font-size="39.26">18nt-</text>
</g>
</svg>
</body></html>
